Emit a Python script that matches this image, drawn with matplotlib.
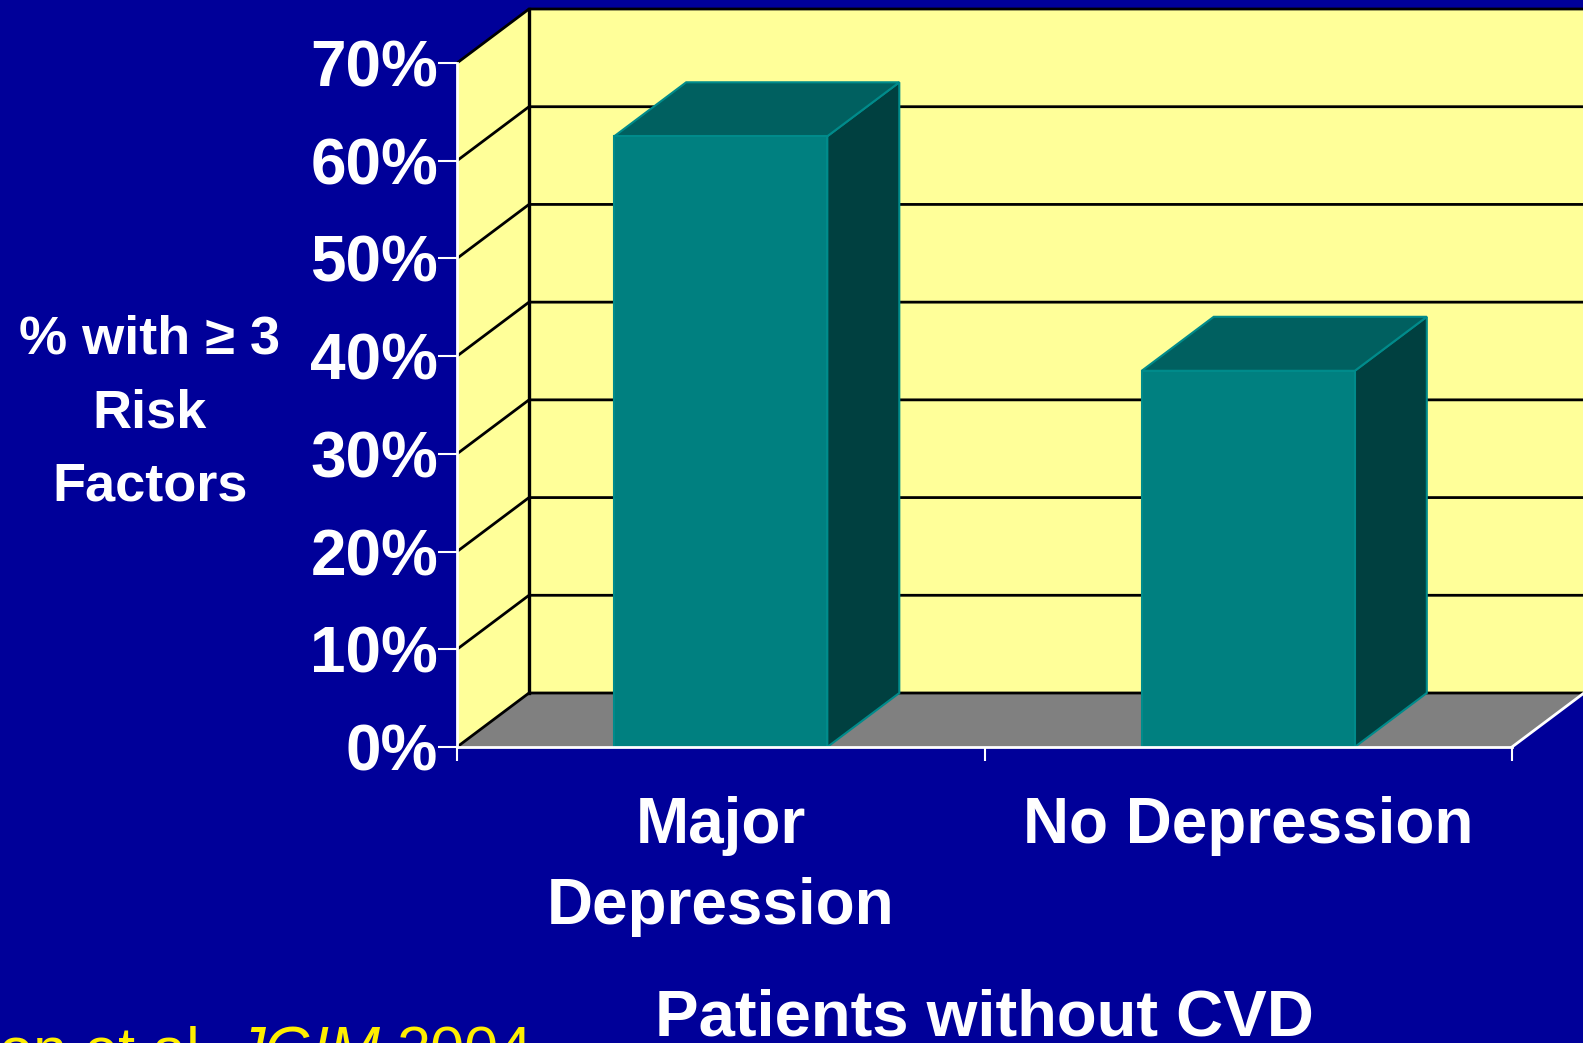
import numpy as np
import matplotlib.pyplot as plt
from matplotlib.patches import Polygon
from matplotlib.ticker import FuncFormatter

# data
categories = ['Major\nDepression', 'No Depression']
values = [62.5, 38.5]
y_ticks = [0, 10, 20, 30, 40, 50, 60, 70]
y_label = '% with \u2265 3\nRisk\nFactors'
x_title = 'Patients without CVD'
cite_author = 'on et al.'
cite_journal = 'JGIM'
cite_year = '2004'

W, H = 1583, 1043
bg = '#000099'
wall = '#FFFF99'
floor = '#808080'
bar_front = '#008080'
bar_top = '#006060'
bar_side = '#004040'
bar_edge = '#008B8B'
yellow = '#FFEE00'

plt.rcParams['font.family'] = ['Liberation Sans', 'DejaVu Sans']

fig = plt.figure(figsize=(W / 100, H / 100), dpi=100, facecolor=bg)

# axes = front plane of the 3d box (pixels)
x0, x1, y0, y1 = 457, 1512, 747, 63
ax = fig.add_axes([x0 / W, 1 - y0 / H, (x1 - x0) / W, (y0 - y1) / H])
ax.set_xlim(-0.5, len(categories) - 0.5)
ax.set_ylim(0, y_ticks[-1])
ax.patch.set_visible(False)

xl, xr = ax.get_xlim()
ymax = ax.get_ylim()[1]
# depth offset of the box in data units
ddx = 72 / (x1 - x0) * (xr - xl)
ddy = 54 / (y0 - y1) * ymax

# walls and floor
back = [(xl + ddx, ddy), (xr + ddx, ddy), (xr + ddx, ymax + ddy), (xl + ddx, ymax + ddy)]
side = [(xl, 0), (xl + ddx, ddy), (xl + ddx, ymax + ddy), (xl, ymax)]
flr = [(xl, 0), (xr, 0), (xr + ddx, ddy), (xl + ddx, ddy)]
ax.add_patch(Polygon(back, closed=True, fc=wall, ec='none', clip_on=False, zorder=0.5))
ax.add_patch(Polygon(side, closed=True, fc=wall, ec='none', clip_on=False, zorder=0.5))
ax.add_patch(Polygon(flr, closed=True, fc=floor, ec='none', clip_on=False, zorder=0.6))

for t in y_ticks:
    ax.plot([xl, xl + ddx, xr + ddx], [t, t + ddy, t + ddy], color='black',
            lw=2, clip_on=False, zorder=0.8, solid_capstyle='butt')
ax.plot([xl + ddx, xl + ddx], [ddy, ymax + ddy], color='black', lw=2.4,
        clip_on=False, zorder=0.8)
ax.plot([xr, xr + ddx], [0, ddy], color='white', lw=2, clip_on=False, zorder=0.9)

# 3d bars
bw = 0.404
for i, v in enumerate(values):
    a, b = i - bw / 2, i + bw / 2
    s = [(b, 0), (b + ddx, ddy), (b + ddx, v + ddy), (b, v)]
    tp = [(a, v), (b, v), (b + ddx, v + ddy), (a + ddx, v + ddy)]
    fr = [(a, 0), (b, 0), (b, v), (a, v)]
    ax.add_patch(Polygon(s, closed=True, fc=bar_side, ec=bar_edge, lw=1.5, clip_on=False, zorder=2))
    ax.add_patch(Polygon(tp, closed=True, fc=bar_top, ec=bar_edge, lw=1.5, clip_on=False, zorder=2))
    ax.add_patch(Polygon(fr, closed=True, fc=bar_front, ec=bar_edge, lw=1.5, clip_on=False, zorder=2))

# axes
for sp in ['top', 'right']:
    ax.spines[sp].set_visible(False)
for sp in ['left', 'bottom']:
    ax.spines[sp].set_color('white')
    ax.spines[sp].set_linewidth(2)

ax.set_yticks(y_ticks)
ax.yaxis.set_major_formatter(FuncFormatter(lambda v, p: f'{v:.0f}%'))
ax.tick_params(axis='y', colors='white', length=13.5, width=1.5, pad=0,
               labelsize=46)
for lbl in ax.get_yticklabels():
    lbl.set_fontweight('bold')

ax.set_xticks(np.arange(len(categories) + 1) - 0.5)
ax.set_xticklabels([])
ax.tick_params(axis='x', which='major', colors='white', length=10, width=1.5)
ax.set_xticks(np.arange(len(categories)), categories, minor=True)
ax.tick_params(axis='x', which='minor', length=0, pad=35, labelsize=46,
               labelcolor='white')
for lbl in ax.get_xticklabels(minor=True):
    lbl.set_fontweight('bold')
    lbl.set_linespacing(1.45)

# texts around the chart
fig.text(150 / W, 1 - 315 / H, y_label, ha='center', va='top', fontsize=39,
         fontweight='bold', color='white', linespacing=1.6)
fig.text(984 / W, 1 - 989 / H, x_title, ha='center', va='top', fontsize=47,
         fontweight='bold', color='white')

# citation, partly off the slide like the original
fs = 44
space = 0.278 * fs * 100 / 72
cy = 1 - 1025 / H
fig.text((234 - space) / W, cy, cite_author, ha='right', va='top',
         fontsize=fs, color=yellow)
tj = fig.text(234 / W, cy, cite_journal, ha='left', va='top',
              fontsize=fs, color=yellow, style='italic')
r = fig.canvas.get_renderer()
jx = tj.get_window_extent(r).x1
fig.text((jx + space) / W, cy, cite_year, ha='left', va='top',
         fontsize=fs, color=yellow)

fig.savefig('out.png', dpi=100, facecolor=bg)
